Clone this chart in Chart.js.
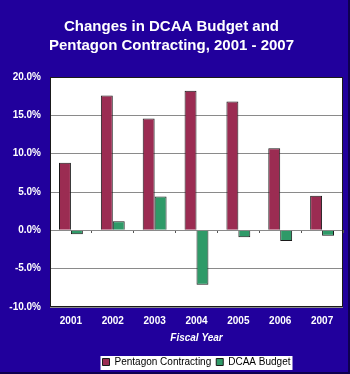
<!DOCTYPE html>
<html>
<head>
<meta charset="utf-8">
<script src="https://cdn.jsdelivr.net/npm/chart.js@4"></script>
<style>
  html, body { margin: 0; padding: 0; background: #21009c; }
  #wrap { width: 350px; height: 374px; }
</style>
</head>
<body>
<div id="wrap"><canvas id="budgetChart" width="350" height="374"></canvas></div>
<script>
const years = ['2001', '2002', '2003', '2004', '2005', '2006', '2007'];
const pentagonContracting = [8.8, 17.6, 14.6, 18.2, 16.8, 10.7, 4.5];
const dcaaBudget = [-0.5, 1.2, 4.4, -7.1, -0.9, -1.4, -0.7];
const yTicks = [-10, -5, 0, 5, 10, 15, 20];

const legendShift = 25;

// navy background, white plot area, white legend box, dark frame
const backdrop = {
  id: 'backdrop',
  afterUpdate(chart) {
    // legend sits right of centre in the original
    const lg = chart.legend;
    lg.left += legendShift;
    lg.right += legendShift;
    (lg.legendHitBoxes || []).forEach(h => { h.left += legendShift; });
  },
  beforeDraw(chart) {
    const ctx = chart.ctx;
    const a = chart.chartArea;
    ctx.save();
    ctx.fillStyle = '#21009c';
    ctx.fillRect(0, 0, chart.width, chart.height);
    ctx.fillStyle = '#ffffff';
    ctx.fillRect(a.left, a.top, a.right - a.left, a.bottom - a.top);
    const boxes = chart.legend.legendHitBoxes;
    if (boxes && boxes.length) {
      let l = Infinity, r = -Infinity, t = Infinity, b = -Infinity;
      boxes.forEach(h => {
        l = Math.min(l, h.left); r = Math.max(r, h.left + h.width);
        t = Math.min(t, h.top); b = Math.max(b, h.top + h.height);
      });
      ctx.fillRect(l - 2, t - 1, r - l + 4, b - t + 4);
    }
    ctx.restore();
  },
  afterDraw(chart) {
    const ctx = chart.ctx;
    const a = chart.chartArea;
    ctx.save();
    ctx.strokeStyle = '#1a1a1a';
    ctx.lineWidth = 1;
    ctx.strokeRect(Math.round(a.left) + 0.5, Math.round(a.top) + 0.5,
      Math.round(a.right - a.left) - 1, Math.round(a.bottom - a.top) - 1);
    ctx.strokeStyle = '#0e0050';
    ctx.lineWidth = 2;
    ctx.beginPath();
    ctx.moveTo(chart.width - 1, 0);
    ctx.lineTo(chart.width - 1, chart.height - 1);
    ctx.lineTo(0, chart.height - 1);
    ctx.stroke();
    ctx.restore();
  }
};

const ctx = document.getElementById('budgetChart').getContext('2d');
new Chart(ctx, {
  type: 'bar',
  data: {
    labels: years,
    datasets: [
      {
        label: 'Pentagon Contracting',
        data: pentagonContracting,
        backgroundColor: '#9b2c52',
        borderColor: '#1a1a1a',
        borderWidth: 1,
        categoryPercentage: 0.57,
        barPercentage: 1.0
      },
      {
        label: 'DCAA Budget',
        data: dcaaBudget,
        backgroundColor: '#2f9a68',
        borderColor: '#1a1a1a',
        borderWidth: 1,
        categoryPercentage: 0.57,
        barPercentage: 1.0
      }
    ]
  },
  options: {
    responsive: false,
    animation: false,
    layout: { padding: { left: 0, right: 7, top: 0, bottom: -3 } },
    scales: {
      x: {
        type: 'category',
        axis: 'x',
        position: 'bottom',
        grid: { display: false, drawTicks: false },
        border: { display: false },
        ticks: {
          color: '#ffffff',
          padding: 8,
          font: { family: 'Arial, "Liberation Sans"', size: 10, weight: 'bold' }
        },
        title: {
          display: true,
          text: 'Fiscal Year',
          color: '#ffffff',
          padding: { top: 0, bottom: 8 },
          font: { family: 'Arial, "Liberation Sans"', size: 10, weight: 'bold', style: 'italic' }
        },
        afterFit(scale) { scale.height = 45; }
      },
      xz: {
        type: 'category',
        axis: 'x',
        labels: years,
        position: { y: 0 },
        offset: true,
        ticks: { display: false },
        border: { display: false },
        grid: {
          offset: true,
          drawOnChartArea: false,
          drawTicks: true,
          tickLength: 3,
          color: '#555555'
        }
      },
      y: {
        min: -10,
        max: 20,
        afterBuildTicks(scale) {
          scale.ticks = yTicks.map(v => ({ value: v }));
        },
        grid: {
          color: '#8a8a8a',
          drawTicks: false
        },
        border: { display: false },
        ticks: {
          color: '#ffffff',
          padding: 9,
          font: { family: 'Arial, "Liberation Sans"', size: 10, weight: 'bold' },
          callback: v => v.toFixed(1) + '%'
        },
        afterFit(scale) { scale.width = 50; }
      }
    },
    plugins: {
      title: {
        display: true,
        text: ['Changes in DCAA Budget and', 'Pentagon Contracting, 2001 - 2007'],
        color: '#ffffff',
        font: { family: 'Arial, "Liberation Sans"', size: 15, weight: 'bold', lineHeight: 1.3 },
        padding: { top: 17, bottom: 21 }
      },
      legend: {
        position: 'bottom',
        labels: {
          color: '#000000',
          boxWidth: 7,
          boxHeight: 7,
          padding: 5,
          font: { family: 'Arial, "Liberation Sans"', size: 10 }
        }
      },
      tooltip: { enabled: false }
    }
  },
  plugins: [backdrop]
});
</script>
</body>
</html>
